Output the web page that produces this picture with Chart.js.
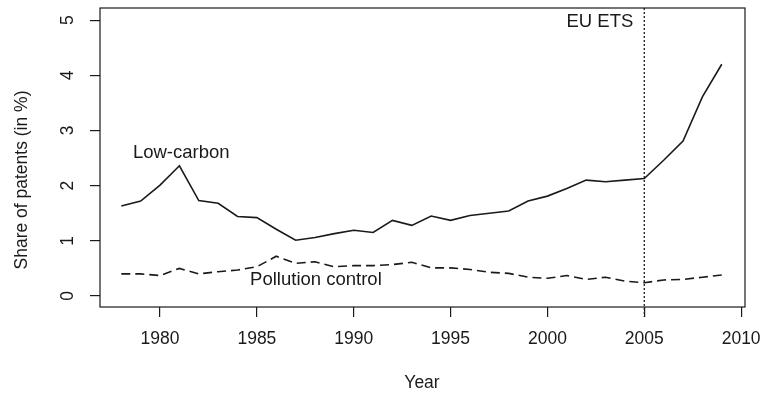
<!DOCTYPE html>
<html>
<head>
<meta charset="utf-8">
<script src="https://cdn.jsdelivr.net/npm/chart.js@4"></script>
<style>
  html, body { margin: 0; padding: 0; background: #fff; }
  #wrap { width: 761px; height: 395px; }
</style>
</head>
<body>
<div id="wrap"><canvas id="c" width="761" height="395"></canvas></div>
<script>
// data
const years = [1978, 1979, 1980, 1981, 1982, 1983, 1984, 1985, 1986, 1987, 1988, 1989,
               1990, 1991, 1992, 1993, 1994, 1995, 1996, 1997, 1998, 1999, 2000, 2001,
               2002, 2003, 2004, 2005, 2006, 2007, 2008, 2009];
const lowCarbon = [1.63, 1.72, 2.01, 2.36, 1.73, 1.68, 1.44, 1.42, 1.21, 1.01, 1.06, 1.13,
                   1.19, 1.15, 1.37, 1.28, 1.45, 1.37, 1.46, 1.50, 1.54, 1.72, 1.81, 1.95,
                   2.10, 2.07, 2.10, 2.13, 2.46, 2.81, 3.61, 4.20];
const pollution = [0.40, 0.40, 0.37, 0.50, 0.40, 0.44, 0.47, 0.53, 0.72, 0.59, 0.62, 0.53,
                   0.55, 0.55, 0.57, 0.61, 0.51, 0.51, 0.48, 0.43, 0.41, 0.34, 0.32, 0.37,
                   0.30, 0.34, 0.27, 0.24, 0.29, 0.30, 0.34, 0.38];
const xTicks = [1980, 1985, 1990, 1995, 2000, 2005, 2010];
const yTicks = [0, 1, 2, 3, 4, 5];
const etsYear = 2005;

const FONT = '"Liberation Sans", Arial, sans-serif';
const FSIZE = 17.5;   // ticks and axis titles
const LSIZE = 18.5;   // in-plot labels
const INK = '#1a1a1a';

// box, R-style rotated y labels, annotations
const decor = {
    id: 'decor',
    afterDraw(chart) {
        const { ctx, chartArea: a, scales: { x, y } } = chart;
        ctx.save();
        ctx.strokeStyle = INK;
        ctx.lineWidth = 1.2;
        ctx.strokeRect(a.left, a.top, a.right - a.left, a.bottom - a.top);

        // EU ETS line
        const xe = x.getPixelForValue(etsYear);
        ctx.setLineDash([2, 2]);
        ctx.lineWidth = 1.3;
        ctx.beginPath();
        ctx.moveTo(xe, a.top);
        ctx.lineTo(xe, a.bottom + 10);
        ctx.stroke();
        ctx.setLineDash([]);

        ctx.fillStyle = INK;
        ctx.font = FSIZE + 'px ' + FONT;
        ctx.textBaseline = 'middle';

        // y tick labels, rotated
        yTicks.forEach(v => {
            ctx.save();
            ctx.translate(68, y.getPixelForValue(v));
            ctx.rotate(-Math.PI / 2);
            ctx.textAlign = 'center';
            ctx.fillText(String(v), 0, 0);
            ctx.restore();
        });

        // axis titles
        ctx.save();
        ctx.translate(22, 180);
        ctx.rotate(-Math.PI / 2);
        ctx.textAlign = 'center';
        ctx.fillText('Share of patents (in %)', 0, 0);
        ctx.restore();
        ctx.textAlign = 'center';
        ctx.fillText('Year', 422, 383);

        // labels
        ctx.font = LSIZE + 'px ' + FONT;
        ctx.textAlign = 'right';
        ctx.fillText('EU ETS', xe - 11, y.getPixelForValue(4.96));
        ctx.textAlign = 'left';
        ctx.fillText('Low-carbon', x.getPixelForValue(1978.6), y.getPixelForValue(2.59));
        ctx.fillText('Pollution control', x.getPixelForValue(1984.65), y.getPixelForValue(0.29));
        ctx.restore();
    }
};

new Chart(document.getElementById('c'), {
    type: 'line',
    data: {
        datasets: [{
            label: 'Low-carbon',
            data: years.map((yr, i) => ({ x: yr, y: lowCarbon[i] })),
            borderColor: INK,
            borderWidth: 1.6,
            pointRadius: 0,
            tension: 0
        }, {
            label: 'Pollution control',
            data: years.map((yr, i) => ({ x: yr, y: pollution[i] })),
            borderColor: INK,
            borderWidth: 1.6,
            borderDash: [9, 5],
            pointRadius: 0,
            tension: 0
        }]
    },
    plugins: [decor],
    options: {
        responsive: false,
        animation: false,
        layout: { padding: { top: 8, right: 16, left: 0, bottom: 0 } },
        plugins: { legend: { display: false }, tooltip: { enabled: false } },
        scales: {
            x: {
                type: 'linear',
                min: 1976.9,
                max: 2010.2,
                afterBuildTicks(s) { s.ticks = xTicks.map(v => ({ value: v })); },
                afterFit(s) { s.height = 88; s.paddingLeft = 0; s.paddingRight = 0; },
                border: { display: false },
                grid: { drawOnChartArea: false, tickLength: 10, color: INK, lineWidth: 1.2 },
                ticks: {
                    color: INK,
                    padding: 12,
                    maxRotation: 0,
                    font: { family: FONT, size: FSIZE },
                    callback: v => String(v)
                }
            },
            y: {
                min: -0.2,
                max: 5.22,
                afterBuildTicks(s) { s.ticks = yTicks.map(v => ({ value: v })); },
                afterFit(s) { s.width = 100; s.paddingTop = 0; s.paddingBottom = 0; },
                border: { display: false },
                grid: { drawOnChartArea: false, tickLength: 10, color: INK, lineWidth: 1.2 },
                ticks: { display: false }
            }
        }
    }
});
</script>
</body>
</html>
